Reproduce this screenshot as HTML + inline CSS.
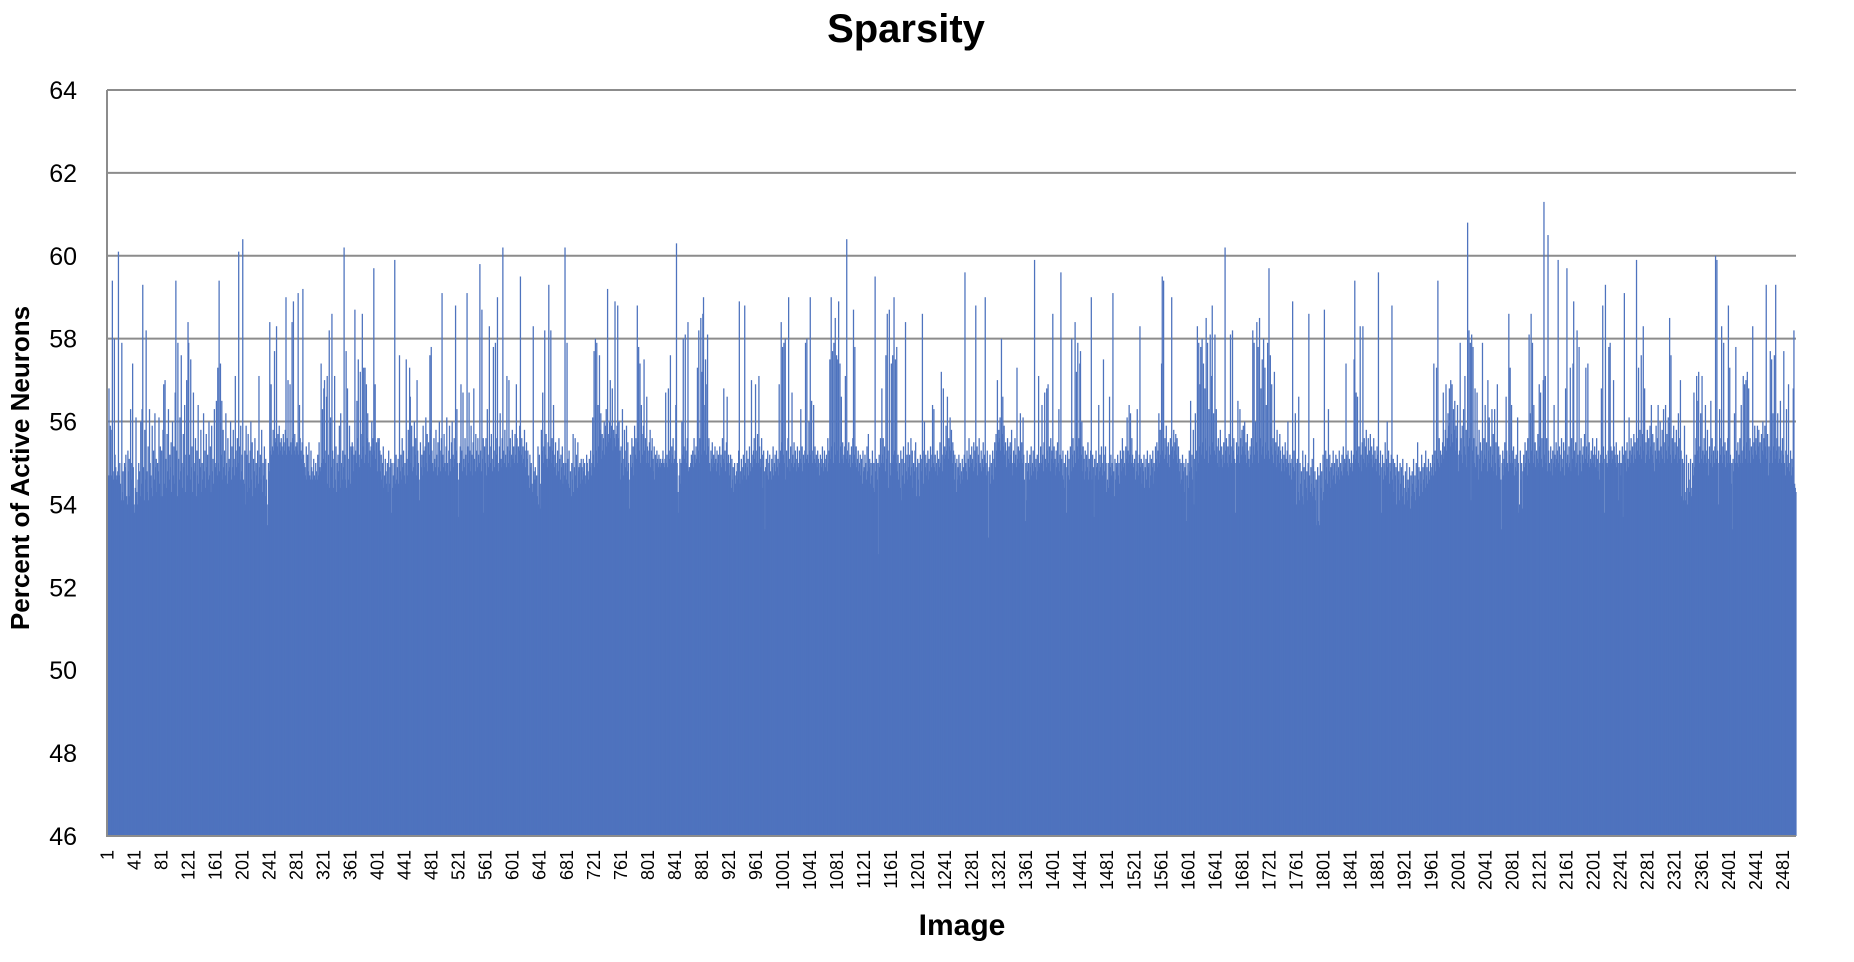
<!DOCTYPE html>
<html><head><meta charset="utf-8"><title>Sparsity</title>
<style>
html,body{margin:0;padding:0;background:#fff;}
svg{display:block;font-family:"Liberation Sans",sans-serif;}
</style></head>
<body>
<svg id="chart" width="1854" height="962" viewBox="0 0 1854 962" xmlns="http://www.w3.org/2000/svg">
<text x="906" y="42" text-anchor="middle" font-size="40" font-weight="bold">Sparsity</text>
<text transform="translate(29,468) rotate(-90)" text-anchor="middle" font-size="26" font-weight="bold">Percent of Active Neurons</text>
<text x="962" y="935" text-anchor="middle" font-size="30" font-weight="bold">Image</text>
<g id="grid"></g>
<g id="bars"></g>
<g id="axes"></g>
<g id="yticks"></g>
<g id="xticks"></g>
</svg>
<script>
const yTicks = [46,48,50,52,54,56,58,60,62,64];
const gridValues = [56,58,60,62,64];
const xTickStep = 40;
const valueRows = [
[54.7,54.7,56.8,54.7,55.9,55.8,54.7,59.4,54.8,54.6,58.0,55.2,54.9,54.6,54.7,54.8,60.1,54.7,55.0,54.5,54.1,57.9,54.3,54.8,54.1,55.0,54.9,55.2,54.2,54.0,55.3,54.8,55.1,54.2,56.3,55.0,54.6,57.4,54.9,54.0],
[53.8,54.4,56.1,54.3,54.0,54.6,55.0,54.8,54.2,56.0,54.5,56.3,59.3,54.9,54.1,55.8,54.6,58.2,54.8,54.3,55.4,54.1,56.3,55.0,54.7,54.4,55.9,54.2,55.3,54.6,56.2,54.9,55.1,54.3,55.0,54.8,56.1,54.5,55.4,54.2],
[55.3,54.2,55.8,56.9,54.5,57.0,55.1,54.4,55.7,54.8,56.3,54.6,55.2,54.9,55.5,54.3,56.0,54.7,55.4,54.5,56.7,59.4,55.3,54.2,57.9,55.1,54.6,56.1,54.8,57.6,55.0,54.4,55.7,54.9,56.4,54.3,55.2,57.0,54.7,58.4],
[57.9,55.2,54.6,57.5,54.9,55.4,54.3,56.7,55.0,54.8,55.6,54.2,55.3,54.7,56.4,54.5,55.1,54.9,55.8,54.3,55.0,54.6,56.2,54.8,55.3,54.4,55.7,54.9,55.2,54.6,56.0,54.7,55.4,54.3,55.9,54.8,55.1,54.5,56.3,55.0],
[54.9,56.5,54.7,57.3,55.0,59.4,54.8,57.4,55.2,56.5,54.6,55.8,54.9,55.3,54.7,56.2,55.0,54.5,55.6,54.8,55.1,54.9,56.0,54.6,55.4,54.9,55.8,55.1,54.7,57.1,55.3,54.9,55.6,55.0,60.1,55.4,54.6,55.9,54.8,55.2],
[60.4,54.6,54.5,55.3,54.0,55.9,55.2,54.3,55.7,55.0,54.4,55.3,56.0,54.6,55.5,54.2,55.1,54.8,55.6,54.4,55.0,54.7,55.3,54.5,57.1,54.9,55.2,54.6,55.8,54.3,55.0,54.7,55.4,54.2,55.1,54.6,54.0,53.5,55.0,54.8],
[58.4,55.3,56.9,55.2,55.4,55.8,55.3,57.7,55.5,55.6,58.3,55.4,55.7,55.2,55.9,55.5,55.3,55.6,55.4,55.2,55.7,55.5,55.3,55.8,59.0,55.2,55.6,57.0,55.4,55.3,56.9,55.5,55.2,58.4,55.6,58.9,55.3,55.7,55.2,55.4],
[55.5,55.3,59.1,55.2,56.4,55.6,55.3,55.1,55.5,59.2,55.2,55.0,54.9,54.7,55.4,54.6,55.2,54.8,55.5,54.7,54.6,55.3,54.9,54.6,54.8,55.1,54.7,54.6,55.0,54.8,54.6,55.2,54.7,55.5,54.9,54.8,57.4,55.0,56.3,55.1],
[56.8,57.0,55.0,55.3,56.6,57.1,54.5,55.2,58.2,54.4,56.1,54.9,58.6,55.3,54.4,55.1,57.1,54.6,55.4,54.3,55.0,55.2,54.8,55.9,54.4,56.2,55.0,54.6,55.3,54.9,60.2,55.2,54.6,57.7,54.4,56.8,55.1,54.6,55.9,54.5],
[55.4,55.3,55.5,55.4,54.8,55.2,58.7,55.3,55.0,56.5,55.6,57.5,55.2,54.9,57.2,55.7,55.1,58.6,55.4,57.3,55.0,57.3,55.2,56.9,55.6,56.2,55.0,55.5,55.3,54.9,55.4,56.0,55.2,55.6,59.7,55.3,56.9,55.1,55.5,54.8],
[55.6,55.5,55.6,55.3,54.8,55.2,54.6,55.0,55.4,54.4,54.7,55.1,54.8,54.5,55.0,54.3,55.3,54.5,54.9,55.1,53.8,55.0,54.4,54.7,55.0,59.9,54.5,55.2,54.6,54.9,55.1,54.5,57.6,54.8,55.2,54.6,55.6,54.9,55.3,54.7],
[55.0,54.5,57.5,55.1,54.7,55.8,55.3,57.3,56.6,55.0,55.9,54.8,55.4,54.9,56.0,55.2,55.6,54.7,57.0,55.3,55.0,54.6,54.1,55.5,54.9,55.2,54.7,55.9,55.3,54.9,55.4,56.1,55.0,55.7,54.8,55.5,55.2,57.6,55.8,57.8],
[55.3,55.0,54.8,55.6,55.1,54.9,55.8,55.2,54.7,55.5,54.9,56.0,55.3,54.8,55.6,59.1,55.2,54.9,55.7,55.0,54.8,55.4,56.1,55.0,54.7,55.3,55.9,55.1,54.8,55.5,56.0,55.2,54.9,55.6,55.1,58.8,55.3,56.3,55.0,54.6],
[53.7,55.0,55.4,56.9,55.3,54.8,56.7,55.1,54.9,55.6,55.2,54.7,59.1,55.4,55.0,56.7,55.3,54.8,55.9,55.2,54.7,55.5,56.8,55.1,54.8,55.7,55.3,54.9,55.6,55.2,55.0,59.8,55.3,54.8,58.7,55.1,55.6,53.8,55.4,55.0],
[55.6,54.7,56.3,55.2,54.9,58.3,55.4,55.0,55.7,55.1,54.8,57.8,55.3,54.9,57.9,55.2,55.6,59.0,55.0,54.8,55.4,56.2,55.1,54.9,55.6,60.2,55.3,55.0,55.8,55.2,54.9,57.1,55.4,55.0,57.0,55.3,55.6,54.9,55.2,55.8],
[55.1,55.4,55.0,55.7,55.2,56.9,55.6,55.0,55.4,55.3,55.9,59.5,55.2,55.6,55.0,55.4,55.1,55.8,55.3,54.9,55.5,55.1,55.3,54.7,54.4,55.2,54.9,55.0,54.5,54.3,58.3,54.8,54.6,54.9,54.6,54.7,54.2,55.4,54.0,55.2],
[53.9,54.5,55.8,55.3,56.7,55.0,55.4,58.2,55.2,55.7,55.1,54.9,55.5,59.3,55.1,55.4,58.2,55.0,55.6,55.3,56.4,55.2,54.9,55.5,54.7,55.0,55.3,54.8,55.6,55.1,54.6,55.2,54.9,55.4,54.5,55.0,54.7,60.2,55.0,54.6],
[57.9,55.1,54.5,55.3,54.4,54.8,54.2,55.0,54.6,55.7,54.3,54.9,55.6,54.7,55.2,54.4,55.5,54.8,54.9,55.0,54.5,55.1,54.9,54.6,55.1,54.8,55.0,54.7,54.5,55.2,55.0,54.8,54.6,55.1,54.9,55.3,54.7,55.0,56.1,55.2],
[57.7,54.9,58.0,55.3,57.9,55.0,56.4,55.4,57.6,55.8,56.2,55.1,55.7,55.3,55.6,56.0,55.2,55.9,56.3,55.4,59.2,55.7,55.5,56.0,57.0,55.6,55.9,56.8,55.3,55.8,55.6,58.9,55.4,55.7,55.9,58.8,55.6,56.0,55.3,54.6],
[55.4,55.0,56.3,54.7,55.1,55.8,54.9,55.3,55.9,54.8,55.5,55.0,54.6,53.9,55.2,54.9,55.6,55.0,55.4,54.7,55.9,55.2,55.6,55.1,58.8,55.5,57.8,55.3,57.4,55.0,56.4,55.7,55.2,55.9,57.5,55.3,55.6,55.0,56.6,55.4],
[55.0,55.3,55.5,55.8,54.9,55.3,55.6,55.1,54.8,55.4,54.6,55.2,55.0,55.3,55.1,54.9,55.2,55.0,55.1,54.9,55.0,55.1,55.3,55.0,54.9,55.1,56.7,55.0,55.2,54.9,56.8,55.3,55.1,57.6,55.0,55.4,55.2,55.6,55.0,55.1],
[55.3,56.4,60.3,55.0,54.3,53.8,54.7,55.1,54.5,55.0,56.0,55.2,58.0,55.4,55.1,58.1,55.3,55.0,55.6,58.4,54.8,54.9,54.9,55.0,55.2,55.1,55.3,54.9,55.6,55.2,55.0,55.4,55.1,57.3,55.3,58.2,55.0,55.6,58.5,55.2],
[57.2,58.6,59.0,55.3,56.4,57.5,55.2,56.9,58.1,55.4,55.6,55.0,54.8,55.3,55.1,55.5,54.9,55.2,55.0,55.4,55.1,54.8,55.3,55.0,55.2,54.7,55.4,55.0,55.2,54.9,55.6,55.1,56.8,55.0,55.3,54.8,55.5,56.6,55.0,55.2],
[55.0,54.7,55.2,54.4,55.1,54.6,54.9,54.3,55.0,54.5,54.7,54.8,55.0,54.6,55.3,58.9,54.5,54.8,55.1,54.6,54.9,55.2,54.7,58.8,55.0,54.6,55.3,54.9,55.1,54.7,55.4,54.8,55.0,57.0,55.2,54.9,55.3,55.6,55.1,56.9],
[55.0,55.3,55.7,55.0,57.1,55.4,55.1,54.9,55.6,55.2,54.4,55.3,54.8,53.4,54.9,55.1,54.7,55.3,54.6,55.0,55.2,54.8,54.6,55.1,54.9,55.4,54.7,55.0,55.2,54.8,55.3,54.9,55.1,54.7,56.9,55.0,55.3,58.4,55.5,57.8],
[55.2,57.9,55.0,58.0,54.6,55.3,54.9,55.6,59.0,55.1,54.8,55.4,55.0,56.7,55.2,54.9,55.5,55.0,55.3,54.8,55.1,55.4,55.0,54.9,55.3,55.1,56.3,55.0,55.4,54.8,55.2,55.0,55.3,57.9,55.1,58.0,55.2,55.0,56.0,55.3],
[59.0,55.2,56.5,55.0,55.3,56.4,55.1,55.4,55.0,55.2,54.9,55.3,55.1,55.0,54.7,55.2,54.9,55.1,55.4,54.8,55.0,55.3,54.9,55.1,55.2,54.8,55.6,55.0,55.3,57.5,55.1,59.0,55.4,57.7,55.0,57.9,55.5,58.5,55.2,57.6],
[57.5,55.3,58.9,55.0,57.4,55.4,56.6,55.1,55.5,55.0,55.2,55.4,57.1,55.1,60.4,55.3,55.0,55.5,55.1,55.2,54.9,55.4,55.0,55.6,58.7,55.2,57.8,55.0,55.4,54.9,55.1,55.3,54.8,55.0,55.2,54.7,55.1,54.5,55.3,54.8],
[54.9,55.2,55.0,54.6,55.4,54.8,55.7,54.9,55.1,54.5,55.0,54.7,55.3,54.4,55.0,54.3,59.5,54.8,55.1,54.6,55.0,52.8,55.2,54.9,55.6,55.0,56.8,55.2,55.6,55.0,55.4,54.8,57.6,55.1,58.6,55.3,54.4,58.7,55.0,54.7],
[57.4,55.0,57.6,55.2,59.0,55.3,57.5,55.0,57.8,54.8,55.2,54.6,55.0,54.4,55.3,54.1,55.1,54.7,55.4,54.5,55.0,58.4,54.8,55.2,54.6,55.5,54.9,55.2,54.7,55.6,54.9,55.3,54.4,55.0,54.8,55.3,55.5,54.2,54.9,55.1],
[54.6,55.0,54.2,55.2,54.8,55.1,58.6,55.3,54.5,56.0,54.9,55.2,54.7,55.0,55.3,54.6,55.1,54.8,55.4,54.9,55.2,56.4,55.0,56.3,54.9,55.2,54.8,55.0,55.3,54.7,55.1,54.9,55.5,55.0,57.2,55.2,54.8,56.8,55.1,55.4],
[55.2,55.9,55.3,56.6,55.1,55.6,55.4,56.1,55.3,55.8,55.0,55.5,55.3,54.6,55.2,55.0,54.3,55.1,54.6,54.9,55.2,54.7,55.0,54.5,54.8,55.1,54.6,54.9,55.2,59.6,55.0,54.8,55.3,54.6,55.1,55.6,54.9,55.2,55.0,55.4],
[55.1,54.8,55.5,54.9,55.3,58.8,55.0,55.4,54.7,55.2,55.6,55.0,54.9,55.3,54.8,55.1,55.5,54.9,55.2,59.0,55.0,54.7,55.3,54.8,53.2,54.9,55.2,54.5,55.0,54.7,55.3,54.6,55.1,55.5,54.9,55.7,55.3,57.0,55.5,55.8],
[55.6,56.1,55.3,58.0,55.7,56.6,55.4,55.9,55.2,55.5,54.9,55.3,55.6,55.1,55.4,55.0,55.5,55.2,55.8,55.0,54.7,55.3,55.0,55.6,55.2,54.9,57.3,55.1,55.4,55.0,55.3,56.2,55.1,55.5,55.0,56.1,55.2,54.6,53.6,55.0],
[54.1,55.3,54.8,55.0,54.6,55.2,54.9,55.4,54.7,55.0,55.3,54.8,59.9,54.9,55.1,54.6,55.2,54.8,57.1,55.0,54.9,55.4,55.0,56.4,55.2,54.8,55.5,56.7,55.1,54.9,56.8,55.3,56.9,55.0,55.4,54.8,55.6,55.1,55.3,58.6],
[55.0,55.4,55.1,54.7,55.3,54.9,55.5,55.0,56.3,54.8,55.2,59.6,55.1,54.7,55.3,54.6,55.0,54.4,55.2,53.8,54.9,55.3,54.7,55.1,54.6,55.4,54.8,58.0,55.2,55.6,54.9,55.3,58.4,55.0,57.2,55.4,57.9,55.1,55.6,57.4],
[57.7,55.2,56.0,54.8,55.4,55.1,54.6,55.3,54.8,55.2,54.9,55.5,54.6,55.1,54.8,55.3,59.0,54.6,55.2,54.9,53.7,55.1,54.7,55.3,54.9,55.0,54.6,56.4,54.8,55.2,54.9,55.4,54.7,55.0,57.5,55.2,54.8,55.4,55.0,54.3],
[54.6,55.0,54.4,56.6,54.9,55.2,54.7,55.0,59.1,54.8,54.2,55.1,54.6,55.0,54.9,55.2,54.7,55.0,54.5,55.3,54.8,55.1,55.6,54.9,55.3,55.0,54.7,55.4,55.1,56.1,55.3,55.0,56.4,55.2,56.2,55.0,55.6,55.2,55.0,54.9],
[55.1,54.6,55.3,54.8,56.3,55.0,54.7,55.2,58.3,54.9,55.1,54.5,55.0,54.8,55.2,54.4,54.9,55.1,54.6,55.3,54.9,55.0,54.4,55.2,54.7,55.1,54.9,55.3,54.5,55.0,54.8,55.4,55.1,55.5,54.9,55.3,56.2,55.0,55.8,55.2],
[57.4,59.5,55.3,59.4,55.1,55.6,55.2,55.9,55.4,55.0,55.5,55.2,54.9,55.6,55.3,59.0,55.4,55.1,55.8,55.3,55.5,55.7,55.2,55.6,55.0,55.4,54.8,55.1,54.5,55.0,54.6,55.2,54.8,55.0,54.3,54.9,55.1,53.6,54.7,55.0],
[54.4,55.3,54.8,56.5,54.9,55.2,54.6,55.8,54.0,55.1,56.2,54.8,55.3,58.3,55.0,57.9,55.4,56.9,57.8,55.2,58.0,55.5,57.4,55.1,56.8,55.6,58.5,55.3,57.9,55.0,56.3,55.4,58.1,55.2,57.1,58.8,55.5,56.2,55.3,58.1],
[55.2,56.3,55.4,55.0,55.6,54.9,55.3,55.8,55.1,55.4,54.9,55.2,55.5,55.0,60.2,55.3,55.6,55.0,55.4,54.9,55.7,55.2,58.1,55.4,55.0,58.2,55.3,55.6,55.1,53.8,55.0,55.5,55.2,56.5,55.4,55.0,56.3,55.6,55.2,55.8],
[55.4,55.9,55.3,56.0,55.2,55.5,55.0,55.7,55.3,55.1,54.9,55.4,55.2,55.6,55.0,58.2,55.4,57.9,55.2,56.0,55.5,58.4,55.3,57.8,55.0,58.5,55.6,56.8,55.2,57.5,55.4,58.0,55.1,57.3,55.5,56.4,55.2,57.9,55.3,59.7],
[55.1,57.6,55.4,56.9,55.2,55.6,55.0,57.2,55.3,55.5,54.9,55.8,55.2,55.4,55.0,55.7,55.3,55.1,54.8,55.4,55.0,55.2,54.8,55.5,55.1,54.9,55.3,56.0,55.0,54.7,55.2,55.0,54.6,55.1,58.9,54.9,55.3,54.8,56.2,55.0],
[54.0,55.1,54.3,56.6,54.1,55.0,54.5,54.8,54.2,55.3,54.0,54.9,54.6,55.2,54.4,54.8,54.1,55.0,58.6,54.7,54.3,54.9,54.5,55.1,54.2,55.6,54.4,54.8,54.1,54.6,53.5,54.9,53.6,54.7,53.5,55.0,54.4,54.8,54.1,55.2],
[54.3,58.7,54.6,55.3,54.9,55.1,54.5,56.3,54.8,55.2,54.4,54.9,55.0,54.6,55.3,54.7,55.0,54.5,55.2,54.8,55.1,54.7,54.9,55.3,54.6,55.0,54.8,55.2,54.7,55.4,54.9,55.1,55.0,57.4,55.2,54.8,55.3,54.7,55.1,55.0],
[54.9,55.3,55.0,54.8,55.2,57.5,59.4,55.1,56.7,55.3,56.6,55.0,55.4,54.9,58.3,55.2,54.8,55.5,58.3,55.1,55.6,55.0,55.4,55.8,54.9,55.2,55.6,55.0,55.3,55.7,55.1,55.4,54.9,55.2,55.6,55.0,55.3,55.1,54.8,55.4],
[55.2,59.6,55.0,54.7,55.3,53.8,54.9,55.2,54.6,55.0,54.8,55.5,54.7,55.1,56.0,54.9,55.3,54.5,55.0,54.8,55.2,58.8,54.6,55.1,54.3,55.0,54.7,54.9,54.0,55.2,54.6,54.8,54.1,55.0,54.5,54.9,54.2,55.1,54.7,54.4],
[54.0,54.8,54.3,55.0,54.1,54.6,54.4,54.9,53.9,54.7,54.2,54.8,54.5,55.1,54.3,54.7,54.1,55.0,54.4,55.5,54.6,54.9,54.2,54.8,54.5,55.2,54.3,54.9,54.6,55.0,54.4,55.3,54.7,54.9,54.5,55.1,54.8,54.6,55.0,54.7],
[54.9,55.2,54.7,57.4,55.0,55.3,54.8,57.3,55.1,59.4,55.0,55.6,54.9,55.3,55.2,55.0,55.5,56.7,55.1,55.4,55.8,56.9,55.3,55.6,56.2,55.9,56.8,55.4,57.0,55.7,56.9,55.5,56.3,55.8,56.5,55.3,55.9,55.6,56.4,55.2],
[54.8,55.3,57.9,55.6,55.2,55.9,55.0,56.3,55.4,57.1,55.2,55.8,54.9,60.8,55.4,58.2,55.6,57.9,54.1,58.1,55.3,57.8,55.6,55.0,56.8,54.9,55.4,56.7,55.2,54.6,55.8,55.1,55.5,54.8,55.3,57.9,55.0,55.6,55.2,56.4],
[55.1,55.5,54.8,57.0,55.3,56.1,55.0,55.4,54.9,56.3,55.2,55.7,54.8,56.3,55.0,55.5,54.7,56.9,55.1,55.4,54.9,55.2,54.6,53.4,55.0,55.3,54.7,55.1,55.5,54.9,56.6,55.3,55.0,54.8,58.6,55.2,57.3,55.0,56.4,55.3],
[55.0,55.4,54.7,55.1,54.9,55.2,54.8,56.1,55.0,53.8,54.0,55.3,54.6,55.0,53.9,54.8,55.2,54.9,55.5,55.0,55.3,54.7,55.6,55.1,58.1,55.0,56.2,58.6,55.3,57.9,55.0,56.4,55.2,55.5,54.9,55.3,55.1,55.7,55.0,56.9],
[55.4,56.7,55.1,55.6,54.9,57.0,61.3,55.2,57.1,55.0,55.6,54.8,60.5,55.3,55.0,54.8,55.4,55.1,54.7,55.3,55.0,56.4,55.2,54.9,55.5,55.1,55.3,59.9,55.0,55.4,54.8,55.2,55.6,54.9,55.1,55.5,54.7,55.3,56.8,55.0],
[59.7,55.2,54.9,55.4,55.0,57.3,54.8,55.6,55.1,57.4,58.9,55.3,54.9,55.5,55.0,58.2,55.2,54.7,57.8,55.3,55.0,55.6,54.8,55.2,55.4,55.0,55.7,55.1,57.3,55.4,55.0,57.4,55.2,55.5,54.9,55.1,55.3,55.0,55.6,55.2],
[55.0,55.4,54.9,55.2,55.6,55.1,54.8,55.3,54.6,55.0,55.2,56.8,55.0,58.8,55.4,55.1,53.8,59.3,55.2,55.0,54.9,55.3,57.8,55.1,57.9,55.4,55.0,55.3,55.1,57.0,55.4,55.2,55.0,55.5,54.9,55.2,55.0,54.1,55.3,55.0],
[54.7,55.0,55.4,53.7,55.2,59.1,55.0,55.3,54.8,55.5,55.1,54.9,56.1,55.3,55.0,55.6,55.2,55.4,55.0,55.7,55.2,55.5,55.1,59.9,55.3,55.6,57.3,55.2,55.8,55.4,57.6,55.1,55.7,58.3,55.3,56.8,55.0,55.5,55.2,55.8],
[55.3,55.6,55.1,55.9,55.4,56.4,55.2,55.7,55.0,55.5,54.8,55.3,55.9,55.1,55.6,56.4,55.3,55.0,56.0,55.4,55.2,55.8,55.1,56.3,55.5,55.0,56.4,55.3,55.7,55.1,56.1,55.4,58.5,55.2,57.6,55.0,55.6,55.3,55.9,55.1],
[55.5,55.2,55.8,55.0,55.4,56.2,55.1,55.6,57.0,55.3,54.2,55.1,54.1,55.0,55.9,54.3,54.1,55.2,54.0,54.4,55.0,54.3,54.6,55.1,54.2,54.4,55.0,54.7,56.7,54.9,55.2,55.6,57.1,55.3,56.5,57.2,55.0,55.4,56.2,55.1],
[57.1,55.3,55.0,55.6,55.2,56.4,55.0,55.3,55.8,55.1,54.7,55.4,55.0,56.5,55.2,55.6,54.9,55.3,55.0,55.4,60.0,55.1,59.9,55.3,54.0,55.0,56.3,55.2,55.6,58.3,55.0,55.4,57.9,55.2,55.5,54.9,55.3,55.0,55.6,58.8],
[55.0,57.3,55.2,54.5,55.0,53.4,55.1,54.8,56.2,55.0,57.8,55.3,55.0,55.5,54.9,55.2,55.6,55.0,56.4,55.3,55.0,57.1,55.4,56.9,55.1,57.0,55.5,57.2,55.0,56.8,55.3,55.6,55.0,55.4,55.2,58.3,55.1,55.5,55.9,55.3],
[55.6,55.2,55.9,55.4,55.8,55.1,55.5,55.0,55.7,55.3,56.0,55.2,55.6,55.9,55.4,59.3,55.1,55.7,54.7,55.4,55.0,57.7,55.3,57.5,55.0,56.2,55.4,57.6,55.1,59.3,55.3,55.6,56.2,55.0,55.4,55.1,56.5,55.3,55.0,55.6],
[55.2,57.7,55.0,54.7,55.3,56.3,54.9,55.2,56.9,55.0,54.8,55.3,54.7,55.1,54.9,56.8,58.2,54.5,54.4,54.3]
];
const values = valueRows.flat();
const categories = values.map((v, i) => i + 1);

const NS = "http://www.w3.org/2000/svg";
const plotLeft = 107, plotRight = 1796, plotTop = 90, plotBottom = 836;
const yMin = 46, yMax = 64;
function yScale(v){ return plotBottom - (v - yMin) / (yMax - yMin) * (plotBottom - plotTop); }
const band = (plotRight - plotLeft) / categories.length;
function xScale(i){ return plotLeft + i * band; }

const grid = document.getElementById('grid');
gridValues.forEach(g => {
  const l = document.createElementNS(NS, 'line');
  l.setAttribute('x1', plotLeft); l.setAttribute('x2', plotRight);
  l.setAttribute('y1', yScale(g)); l.setAttribute('y2', yScale(g));
  l.setAttribute('stroke', '#8c8c8c'); l.setAttribute('stroke-width', '2');
  
  
  grid.appendChild(l);
});

const barsG = document.getElementById('bars');
values.forEach((v, i) => {
  const x = xScale(i), y = yScale(v);
  const r = document.createElementNS(NS, 'rect');
  r.setAttribute('x', x.toFixed(3));
  r.setAttribute('y', y.toFixed(2));
  r.setAttribute('width', (band + 0.6).toFixed(3));
  r.setAttribute('height', (plotBottom - y).toFixed(2));
  r.setAttribute('fill', '#4e73be');
  
  
  barsG.appendChild(r);
});

const axes = document.getElementById('axes');
const ya = document.createElementNS(NS, 'line');
ya.setAttribute('x1', plotLeft); ya.setAttribute('x2', plotLeft);
ya.setAttribute('y1', plotTop); ya.setAttribute('y2', plotBottom);
ya.setAttribute('stroke', '#8c8c8c'); ya.setAttribute('stroke-width', '2');


axes.appendChild(ya);
const xa = document.createElementNS(NS, 'line');
xa.setAttribute('x1', plotLeft - 1); xa.setAttribute('x2', plotRight);
xa.setAttribute('y1', plotBottom); xa.setAttribute('y2', plotBottom);
xa.setAttribute('stroke', '#8c8c8c'); xa.setAttribute('stroke-width', '2');


axes.appendChild(xa);

const yt = document.getElementById('yticks');
yTicks.forEach(t => {
  const tx = document.createElementNS(NS, 'text');
  tx.setAttribute('x', 77); tx.setAttribute('y', yScale(t) + 9);
  tx.setAttribute('text-anchor', 'end'); tx.setAttribute('font-size', '25');
  tx.textContent = t;
  
  
  yt.appendChild(tx);
});

const xt = document.getElementById('xticks');
categories.forEach((c, i) => {
  if (i % xTickStep !== 0) return;
  const cx = xScale(i) + band / 2 + 6;
  const tx = document.createElementNS(NS, 'text');
  tx.setAttribute('transform', 'translate(' + cx.toFixed(2) + ',850) rotate(-90)');
  tx.setAttribute('text-anchor', 'end'); tx.setAttribute('font-size', '18');
  tx.textContent = c;
  
  
  xt.appendChild(tx);
});
</script>
</body></html>
